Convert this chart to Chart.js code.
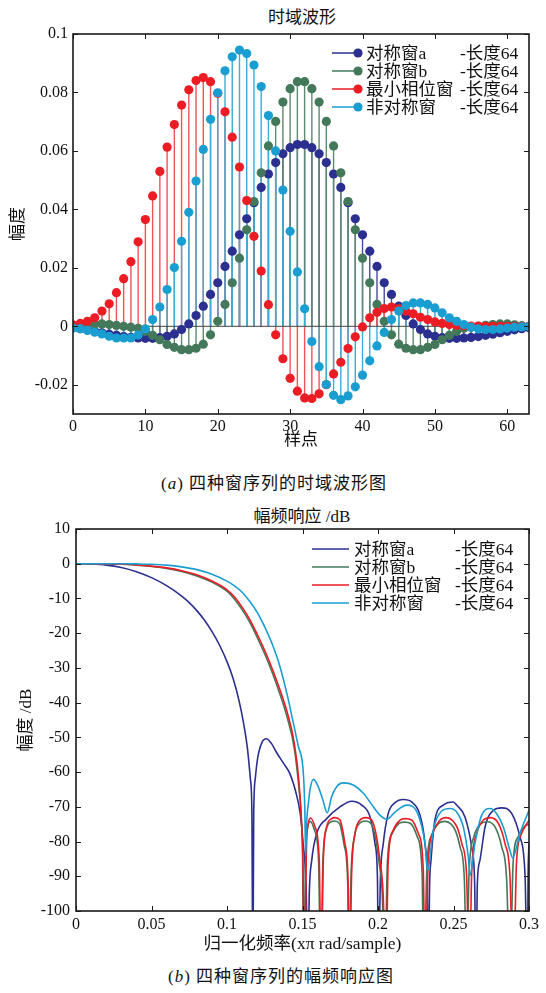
<!DOCTYPE html>
<html>
<head>
<meta charset="utf-8">
<script src="https://cdn.jsdelivr.net/npm/chart.js@4.4.1/dist/chart.umd.min.js"></script>
<style>
  body { margin: 0; background: #fff; width: 546px; height: 993px; position: relative; overflow: hidden;
         font-family: "Liberation Serif", "Noto Sans CJK SC", serif; color: #111; }
  .box { position: absolute; left: 0; width: 546px; }
  .txt { position: absolute; white-space: nowrap; transform: translate(-50%, -50%); }
</style>
</head>
<body>
<div class="txt" style="left:302px;top:15px;font-size:17px">时域波形</div>
<div class="box" style="top:0;height:460px"><canvas id="timeChart"></canvas></div>
<div class="txt" style="left:274px;top:481px;font-size:17px;letter-spacing:1px">(<i>a</i>) 四种窗序列的时域波形图</div>

<div class="txt" style="left:302px;top:514px;font-size:17px">幅频响应 /dB</div>
<div class="box" style="top:495px;height:465px"><canvas id="freqChart"></canvas></div>
<div class="txt" style="left:281px;top:974px;font-size:17px;letter-spacing:1px">(<i>b</i>) 四种窗序列的幅频响应图</div>

<script>
const FONT = '"Liberation Serif", "Noto Sans CJK SC", serif';

const seriesNames = ["对称窗a", "对称窗b", "最小相位窗", "非对称窗"];
const lengthTag = "-长度64";
const seriesColors = ["#2b2f8f", "#44785a", "#ec1c24", "#1a9ed1"];
const stemColors = ["#4a4d9e", "#5e8a6f", "#f2535a", "#3aaed8"];

// time domain, 64 samples each
const winA = [-0.0005, -0.0008, -0.0012, -0.0017, -0.0022, -0.0027, -0.0031, -0.0035, -0.0038, -0.0040,
  -0.0041, -0.0041, -0.0039, -0.0034, -0.0026, -0.0011, 0.0008, 0.0037, 0.0069, 0.0109,
  0.0149, 0.0205, 0.0257, 0.0313, 0.0368, 0.0423, 0.0475, 0.0521, 0.0560, 0.0590,
  0.0611, 0.0622, 0.0622, 0.0611, 0.0590, 0.0560, 0.0521, 0.0475, 0.0423, 0.0368,
  0.0313, 0.0257, 0.0205, 0.0149, 0.0109, 0.0069, 0.0037, 0.0008, -0.0011, -0.0026,
  -0.0034, -0.0039, -0.0041, -0.0041, -0.0040, -0.0038, -0.0035, -0.0031, -0.0027, -0.0022,
  -0.0017, -0.0012, -0.0008, -0.0005];
const winB = [0.0000, 0.0002, 0.0005, 0.0008, 0.0008, 0.0006, 0.0003, 0.0000, -0.0003, -0.0007,
  -0.0017, -0.0031, -0.0046, -0.0062, -0.0072, -0.0080, -0.0080, -0.0075, -0.0061, -0.0029,
  0.0017, 0.0075, 0.0149, 0.0233, 0.0330, 0.0427, 0.0525, 0.0617, 0.0701, 0.0767,
  0.0813, 0.0837, 0.0837, 0.0813, 0.0767, 0.0701, 0.0617, 0.0525, 0.0427, 0.0330,
  0.0233, 0.0149, 0.0075, 0.0017, -0.0029, -0.0061, -0.0075, -0.0080, -0.0080, -0.0072,
  -0.0062, -0.0046, -0.0031, -0.0017, -0.0007, -0.0003, 0.0000, 0.0003, 0.0006, 0.0008,
  0.0008, 0.0005, 0.0002, 0.0000];
const winMin = [0.0005, 0.0010, 0.0017, 0.0029, 0.0052, 0.0077, 0.0115, 0.0163, 0.0221, 0.0289,
  0.0365, 0.0446, 0.0530, 0.0613, 0.0690, 0.0757, 0.0809, 0.0841, 0.0851, 0.0837,
  0.0797, 0.0734, 0.0647, 0.0545, 0.0430, 0.0308, 0.0189, 0.0074, -0.0029, -0.0111,
  -0.0178, -0.0222, -0.0245, -0.0247, -0.0231, -0.0200, -0.0163, -0.0123, -0.0076, -0.0036,
  -0.0002, 0.0029, 0.0048, 0.0061, 0.0066, 0.0061, 0.0052, 0.0043, 0.0031, 0.0023,
  0.0015, 0.0010, 0.0006, 0.0004, 0.0002, 0.0001, 0.0001, 0.0000, 0.0000, 0.0000,
  0.0000, 0.0000, 0.0000, 0.0000];
const winNon = [-0.0006, -0.0008, -0.0014, -0.0020, -0.0026, -0.0034, -0.0040, -0.0040, -0.0040, -0.0030,
  -0.0009, 0.0023, 0.0066, 0.0126, 0.0201, 0.0291, 0.0390, 0.0497, 0.0605, 0.0708,
  0.0799, 0.0874, 0.0922, 0.0945, 0.0933, 0.0894, 0.0820, 0.0721, 0.0600, 0.0466,
  0.0325, 0.0186, 0.0060, -0.0052, -0.0138, -0.0199, -0.0236, -0.0251, -0.0238, -0.0207,
  -0.0167, -0.0118, -0.0067, -0.0021, 0.0023, 0.0052, 0.0071, 0.0080, 0.0080, 0.0075,
  0.0063, 0.0046, 0.0029, 0.0017, 0.0006, -0.0003, -0.0009, -0.0011, -0.0011, -0.0009,
  -0.0006, -0.0003, -0.0002, -0.0001];

const timeXTicks = [0, 10, 20, 30, 40, 50, 60];
const timeYTicks = [-0.02, 0, 0.02, 0.04, 0.06, 0.08, 0.1];

// magnitude response, [normalised freq, dB]
const respA = [[0, 0], [0.01, -0.1], [0.02, -0.4], [0.03, -1.1], [0.04, -2.3], [0.05, -4.0], [0.06, -6.3],
  [0.07, -9.3], [0.075, -11.2], [0.08, -13.5], [0.085, -16.2], [0.09, -19.5], [0.095, -23.4], [0.1, -28.2],
  [0.104, -33], [0.108, -39.5], [0.111, -46], [0.1135, -53], [0.1155, -62], [0.1165, -72], [0.1171, -120],
  [0.1177, -72], [0.1187, -62], [0.1203, -56], [0.123, -51.6], [0.126, -50.4], [0.1295, -51.8], [0.133, -54.5],
  [0.1375, -57.5], [0.1417, -60.5], [0.146, -66.5], [0.1485, -72], [0.1503, -80], [0.1525, -95], [0.1535, -120],
  [0.1545, -95], [0.1561, -85.4], [0.1594, -77.7], [0.166, -73.4], [0.1748, -70], [0.1826, -68.4], [0.1892, -69.5],
  [0.1947, -72.9], [0.198, -80.6], [0.1996, -90], [0.2004, -120],
  [0.2015, -92], [0.2035, -80.6], [0.2068, -71.9], [0.2113, -68.8], [0.2168, -67.9], [0.2223, -68.6],
  [0.2278, -72.4], [0.2311, -80.6], [0.2326, -92], [0.2333, -120],
  [0.2342, -92], [0.2351, -85.4], [0.2377, -73.8], [0.2432, -69.5], [0.2499, -68.6], [0.2521, -69.5],
  [0.2576, -72.9], [0.262, -81.5], [0.264, -92], [0.2649, -120],
  [0.2658, -92], [0.2675, -85.4], [0.2709, -75.8], [0.2764, -71], [0.2819, -70.3], [0.2885, -71.9],
  [0.294, -78.7], [0.2974, -90], [0.2989, -120], [0.2994, -90], [0.3, -80.6]];
const respB = [[0, 0], [0.02, -0.06], [0.03, -0.17], [0.04, -0.4], [0.05, -0.8], [0.06, -1.35], [0.07, -2.2],
  [0.08, -3.5], [0.09, -5.3], [0.1, -7.9], [0.105, -10.2], [0.11, -13.2], [0.115, -16.8], [0.12, -21.2],
  [0.125, -26], [0.13, -31.4], [0.135, -37.5], [0.14, -44.5], [0.1445, -53], [0.1475, -64], [0.1493, -74],
  [0.1501, -86], [0.1506, -120],
  [0.1522, -82], [0.1534, -76], [0.155, -74.2], [0.158, -76.8], [0.1607, -86], [0.162, -120],
  [0.1635, -86], [0.1657, -76.6], [0.169, -74.3], [0.1712, -74.1], [0.1745, -74.8], [0.1778, -81.5], [0.18, -93], [0.1806, -120],
  [0.1822, -89], [0.1844, -78.5], [0.1877, -74.8], [0.1915, -74.1], [0.1953, -74.8], [0.1986, -79.6], [0.2007, -86],
  [0.2028, -95], [0.2045, -120],
  [0.2062, -86], [0.2095, -77.6], [0.214, -74.8], [0.2173, -74.4], [0.2216, -74.8], [0.226, -78.6], [0.2292, -89], [0.2303, -120],
  [0.2325, -86], [0.2357, -78], [0.2401, -74.8], [0.2444, -74.2], [0.2484, -75], [0.2514, -77], [0.2543, -81.5],
  [0.2572, -91], [0.2587, -120],
  [0.2603, -89], [0.2635, -78.6], [0.2678, -75], [0.2725, -74.3], [0.2775, -75.8], [0.2819, -81.5], [0.2852, -91], [0.2874, -120],
  [0.2895, -86], [0.2928, -78.6], [0.2975, -75.5], [0.3, -75]];
const respMin = [[0, 0], [0.02, -0.05], [0.03, -0.15], [0.04, -0.35], [0.05, -0.7], [0.06, -1.2], [0.07, -2.0],
  [0.08, -3.2], [0.09, -5.0], [0.1, -7.5], [0.105, -9.6], [0.11, -12.5], [0.115, -16], [0.12, -20.3],
  [0.125, -25], [0.13, -30.3], [0.135, -36.2], [0.14, -43], [0.1445, -51.5], [0.1475, -62], [0.1493, -74],
  [0.1503, -86], [0.1512, -120],
  [0.1527, -80.6], [0.1538, -74.8], [0.1554, -73.2], [0.1583, -75.8], [0.1611, -85.4], [0.1623, -120],
  [0.1638, -85.4], [0.166, -75.8], [0.1693, -73.4], [0.1715, -73.1], [0.1748, -73.8], [0.1781, -80.6], [0.1803, -93], [0.181, -120],
  [0.1826, -88.3], [0.1848, -77.7], [0.1881, -73.8], [0.192, -73.1], [0.1958, -73.8], [0.1991, -78.7], [0.2012, -85.4],
  [0.2034, -95], [0.2051, -120],
  [0.2068, -85.4], [0.2101, -76.7], [0.2146, -73.8], [0.2179, -73.4], [0.2223, -73.8], [0.2267, -77.7], [0.23, -88.3], [0.2311, -120],
  [0.2333, -85.4], [0.2366, -77.2], [0.2411, -73.8], [0.2455, -73.1], [0.2495, -74], [0.2525, -76], [0.2555, -80.6],
  [0.2587, -90], [0.2605, -120],
  [0.2621, -88.3], [0.2654, -77.7], [0.2698, -73.8], [0.2746, -73.1], [0.2797, -74.8], [0.2841, -80.6], [0.2874, -90], [0.2896, -120],
  [0.2918, -85.4], [0.2951, -77.7], [0.3, -73.8]];
const respNon = [[0, 0], [0.03, 0], [0.04, -0.05], [0.05, -0.15], [0.06, -0.4], [0.07, -0.9], [0.08, -1.7],
  [0.09, -3.0], [0.1, -5.0], [0.105, -6.4], [0.11, -8.2], [0.115, -10.8], [0.12, -14], [0.125, -18.2],
  [0.13, -23.2], [0.135, -29.5], [0.14, -38], [0.1445, -47], [0.1475, -53], [0.1497, -56.5], [0.1508, -62],
  [0.1515, -70], [0.1521, -84], [0.1528, -74], [0.1539, -69], [0.155, -65], [0.1572, -62.1], [0.1599, -63.7],
  [0.1632, -67.6], [0.1664, -71.7], [0.1693, -67.1], [0.1726, -64.2], [0.177, -63.1], [0.1836, -63.7],
  [0.1903, -66.1], [0.1969, -70], [0.2013, -72.4], [0.2057, -73.6], [0.2113, -71.5], [0.219, -69.5],
  [0.2267, -72.4], [0.2311, -80.6], [0.2329, -88.3], [0.2366, -76.7], [0.2422, -71.2], [0.2477, -70.5],
  [0.2521, -71.5], [0.2565, -75.8], [0.2598, -84.4], [0.261, -89.7], [0.2642, -80.6], [0.2687, -72.4],
  [0.2742, -70.5], [0.2786, -72], [0.283, -75.8], [0.2874, -82.6], [0.2892, -84.7], [0.294, -77.7], [0.3, -71]];

const freqXTicks = [0, 0.05, 0.1, 0.15, 0.2, 0.25, 0.3];
const freqYTicks = [-100, -90, -80, -70, -60, -50, -40, -30, -20, -10, 0, 10];

Chart.defaults.font.family = FONT;
Chart.defaults.color = "#111";

const tickFont = { size: 16, family: FONT };
const titleFont = { size: 17, family: FONT };

function fixedTicks(list) {
    return (scale) => {
        scale.ticks = list.map((value) => ({ value }));
    };
}

function fmt(value) {
    return String(Number(Number(value).toFixed(4)));
}

// box round the plot with short ticks pointing inwards on all four sides
const framePlugin = {
    id: "frame",
    afterDraw(chart) {
        const { ctx, chartArea: a, scales } = chart;
        const x = scales.x;
        const y = scales.y;
        ctx.save();
        ctx.strokeStyle = "#1a1a1a";
        ctx.lineWidth = 1;
        ctx.beginPath();
        x.ticks.forEach((t) => {
            const px = Math.round(x.getPixelForValue(t.value)) + 0.5;
            ctx.moveTo(px, a.bottom);
            ctx.lineTo(px, a.bottom - 5);
            ctx.moveTo(px, a.top);
            ctx.lineTo(px, a.top + 5);
        });
        y.ticks.forEach((t) => {
            const py = Math.round(y.getPixelForValue(t.value)) + 0.5;
            ctx.moveTo(a.left, py);
            ctx.lineTo(a.left + 5, py);
            ctx.moveTo(a.right, py);
            ctx.lineTo(a.right - 5, py);
        });
        ctx.stroke();
        ctx.lineWidth = 1.6;
        ctx.strokeRect(a.left, a.top, a.right - a.left, a.bottom - a.top);
        ctx.restore();
    },
};

// stems from zero to each sample, drawn under the markers
const stemPlugin = {
    id: "stems",
    beforeDatasetsDraw(chart) {
        const { ctx, chartArea: a, scales: { x, y } } = chart;
        const y0 = y.getPixelForValue(0);
        ctx.save();
        ctx.lineWidth = 1.4;
        chart.data.datasets.forEach((ds) => {
            ctx.strokeStyle = ds.stemColor;
            ctx.beginPath();
            ds.data.forEach((p) => {
                const px = x.getPixelForValue(p.x);
                ctx.moveTo(px, y0);
                ctx.lineTo(px, y.getPixelForValue(p.y));
            });
            ctx.stroke();
        });
        ctx.strokeStyle = "#444";
        ctx.lineWidth = 1;
        ctx.beginPath();
        ctx.moveTo(a.left, y0);
        ctx.lineTo(a.right, y0);
        ctx.stroke();
        ctx.restore();
    },
};

function legendPlugin(cfg) {
    return {
        id: "winLegend",
        afterDraw(chart) {
            const ctx = chart.ctx;
            ctx.save();
            ctx.font = `17.5px ${FONT}`;
            ctx.textBaseline = "middle";
            seriesNames.forEach((name, i) => {
                const yy = cfg.top + i * cfg.step;
                const c = seriesColors[i];
                ctx.strokeStyle = c;
                ctx.lineWidth = 1.5;
                ctx.beginPath();
                ctx.moveTo(cfg.lineFrom, yy);
                ctx.lineTo(cfg.lineTo, yy);
                ctx.stroke();
                if (cfg.marker) {
                    ctx.fillStyle = c;
                    ctx.beginPath();
                    ctx.arc(cfg.lineTo, yy, 4.6, 0, Math.PI * 2);
                    ctx.fill();
                }
                ctx.fillStyle = "#111";
                ctx.fillText(name, cfg.textX, yy + 1);
                ctx.fillText(lengthTag, cfg.tagX, yy + 1);
            });
            ctx.restore();
        },
    };
}

function baseOptions() {
    return {
        responsive: true,
        maintainAspectRatio: false,
        animation: false,
        events: [],
        devicePixelRatio: 1,
        layout: { padding: { top: 34, right: 17, bottom: 0, left: 0 } },
        plugins: { legend: { display: false }, tooltip: { enabled: false } },
    };
}

// ---- time domain stems ----
const timeSeries = [winA, winB, winMin, winNon];
new Chart(document.getElementById("timeChart"), {
    type: "line",
    data: {
        datasets: timeSeries.map((vals, i) => ({
            label: seriesNames[i],
            data: vals.map((v, n) => ({ x: n, y: v })),
            showLine: false,
            pointRadius: 4.6,
            pointHoverRadius: 4.6,
            pointBorderWidth: 0,
            pointBackgroundColor: seriesColors[i],
            stemColor: stemColors[i],
            order: timeSeries.length - 1 - i,
        })),
    },
    options: {
        ...baseOptions(),
        scales: {
            x: {
                type: "linear",
                min: 0,
                max: 63,
                afterBuildTicks: fixedTicks(timeXTicks),
                afterFit(s) { s.height = 46; },
                grid: { display: false, drawTicks: false },
                border: { display: false },
                ticks: { font: tickFont, color: "#111", padding: 3, maxRotation: 0, autoSkip: false, callback: fmt },
                title: { display: true, text: "样点", font: titleFont, color: "#111", padding: { top: 0, bottom: 9 } },
            },
            y: {
                min: -0.03,
                max: 0.1,
                afterBuildTicks: fixedTicks(timeYTicks),
                afterFit(s) { s.width = 73; },
                grid: { display: false, drawTicks: false },
                border: { display: false },
                ticks: { font: tickFont, color: "#111", padding: 5, autoSkip: false, callback: fmt },
                title: { display: true, text: "幅度", font: titleFont, color: "#111", padding: { top: 8, bottom: 0 } },
            },
        },
    },
    plugins: [stemPlugin, framePlugin,
        legendPlugin({ top: 53, step: 18, lineFrom: 332, lineTo: 358, marker: true, textX: 366, tagX: 460 })],
});

// ---- magnitude response ----
const freqSeries = [respA, respB, respMin, respNon];
new Chart(document.getElementById("freqChart"), {
    type: "line",
    data: {
        datasets: freqSeries.map((pts, i) => ({
            label: seriesNames[i],
            data: pts.map(([f, db]) => ({ x: f, y: db })),
            borderColor: seriesColors[i],
            borderWidth: 1.6,
            pointRadius: 0,
            fill: false,
            cubicInterpolationMode: "monotone",
            clip: 0,
            order: freqSeries.length - 1 - i,
        })),
    },
    options: {
        ...baseOptions(),
        scales: {
            x: {
                type: "linear",
                min: 0,
                max: 0.3,
                afterBuildTicks: fixedTicks(freqXTicks),
                afterFit(s) { s.height = 49; },
                grid: { display: false, drawTicks: false },
                border: { display: false },
                ticks: { font: tickFont, color: "#111", padding: 4, maxRotation: 0, autoSkip: false, callback: fmt },
                title: { display: true, text: "归一化频率(xπ rad/sample)", font: { size: 17.5, family: FONT }, color: "#111", padding: { top: 0, bottom: 5 } },
            },
            y: {
                min: -100,
                max: 10,
                afterBuildTicks: fixedTicks(freqYTicks),
                afterFit(s) { s.width = 76; },
                grid: { display: false, drawTicks: false },
                border: { display: false },
                ticks: { font: tickFont, color: "#111", padding: 6, autoSkip: false, callback: fmt },
                title: { display: true, text: "幅度 /dB", font: titleFont, color: "#111", padding: { top: 16, bottom: 0 } },
            },
        },
    },
    plugins: [framePlugin,
        legendPlugin({ top: 54, step: 18, lineFrom: 312, lineTo: 349, marker: false, textX: 354, tagX: 455 })],
});
</script>
</body>
</html>
